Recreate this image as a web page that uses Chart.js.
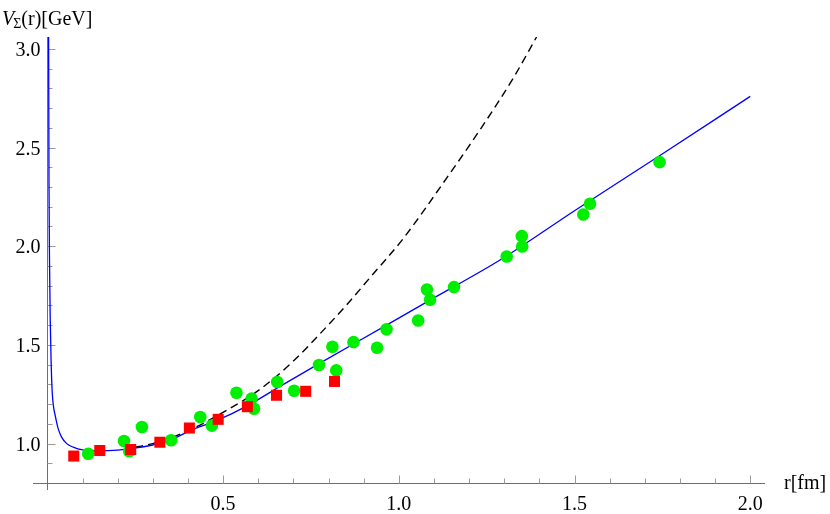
<!DOCTYPE html>
<html>
<head>
<meta charset="utf-8">
<script src="https://cdn.jsdelivr.net/npm/chart.js@4"></script>
<style>
  html, body { margin: 0; padding: 0; background: #fff; }
  #wrap { width: 830px; height: 514px; }
</style>
</head>
<body>
<div id="wrap"><canvas id="potentialChart" width="830" height="514"></canvas></div>
<script>
// red squares
const redR = [0.075, 0.149, 0.237, 0.320, 0.404, 0.486, 0.569, 0.652, 0.735, 0.817];
const redV = [0.937, 0.965, 0.970, 1.007, 1.079, 1.123, 1.187, 1.245, 1.265, 1.315];

// green circles
const greenR = [0.116, 0.218, 0.233, 0.269, 0.352, 0.435, 0.468, 0.538, 0.581, 0.588,
                0.654, 0.702, 0.773, 0.811, 0.822, 0.871, 0.938, 0.965, 1.055, 1.080,
                1.089, 1.157, 1.307, 1.350, 1.351, 1.525, 1.544, 1.742];
const greenV = [0.949, 1.013, 0.961, 1.084, 1.017, 1.135, 1.091, 1.258, 1.228, 1.177,
                1.312, 1.268, 1.398, 1.491, 1.371, 1.514, 1.486, 1.579, 1.624, 1.781,
                1.729, 1.793, 1.948, 2.051, 1.999, 2.161, 2.215, 2.426];

// solid blue curve
const curveR = [0.0034, 0.0045, 0.006, 0.008, 0.0105, 0.0137, 0.018, 0.0213, 0.03, 0.0404,
                0.055, 0.0734, 0.1, 0.15, 0.2, 0.243, 0.3, 0.34, 0.405, 0.486,
                0.567, 0.662, 0.773, 0.965, 1.089, 1.288, 1.5, 1.743, 2.0];
const curveV = [3.06, 2.32, 1.92, 1.63, 1.42, 1.26, 1.18, 1.15, 1.08, 1.033,
                1.0, 0.982, 0.968, 0.963, 0.967, 0.976, 0.993, 1.01, 1.065, 1.12,
                1.19, 1.29, 1.405, 1.60, 1.727, 1.93, 2.18, 2.46, 2.759];

// dashed black curve
const dashR = [0.25, 0.3, 0.4, 0.51, 0.605, 0.70, 0.776, 0.85, 0.92, 1.013,
               1.136, 1.231, 1.326, 1.392];
const dashV = [0.982, 1.0, 1.065, 1.169, 1.275, 1.418, 1.557, 1.70, 1.845, 2.04,
               2.345, 2.59, 2.853, 3.06];

const xTickValues = [0.5, 1.0, 1.5, 2.0];
const xTickLabels = ['0.5', '1.0', '1.5', '2.0'];
const yTickValues = [1.0, 1.5, 2.0, 2.5, 3.0];
const yTickLabels = ['1.0', '1.5', '2.0', '2.5', '3.0'];

function toPoints(xs, ys) {
    return xs.map((x, i) => ({ x: x, y: ys[i] }));
}

const SERIF = '"Liberation Serif", "DejaVu Serif", serif';

// Mathematica-like axes crossing at (0, 0.8), ticks pointing inwards
const axesPlugin = {
    id: 'mmaAxes',
    beforeDatasetsDraw(chart) {
        const ctx = chart.ctx;
        const xs = chart.scales.x, ys = chart.scales.y;
        const area = chart.chartArea;
        const x0 = Math.round(xs.getPixelForValue(0)) + 0.5;
        const y0 = Math.round(ys.getPixelForValue(0.8)) + 0.5;

        ctx.save();
        ctx.lineWidth = 1;
        ctx.strokeStyle = '#6e6e6e';
        ctx.beginPath();
        ctx.moveTo(area.left, y0);
        ctx.lineTo(area.right, y0);
        ctx.moveTo(x0, area.top);
        ctx.lineTo(x0, area.bottom);
        ctx.stroke();

        ctx.strokeStyle = '#9a9a9a';
        ctx.beginPath();
        for (let i = 1; i <= 20; i++) {
            const px = Math.round(xs.getPixelForValue(i / 10)) + 0.5;
            ctx.moveTo(px, y0);
            ctx.lineTo(px, y0 - (i % 5 === 0 ? 8 : 5));
        }
        for (let i = 9; i <= 30; i++) {
            const py = Math.round(ys.getPixelForValue(i / 10)) + 0.5;
            ctx.moveTo(x0, py);
            ctx.lineTo(x0 + (i % 5 === 0 ? 8 : 5), py);
        }
        ctx.stroke();

        ctx.fillStyle = '#000';
        ctx.font = '20px ' + SERIF;
        ctx.textBaseline = 'alphabetic';
        ctx.textAlign = 'center';
        xTickValues.forEach((v, i) => {
            ctx.fillText(xTickLabels[i], xs.getPixelForValue(v), y0 + 26);
        });
        ctx.textAlign = 'right';
        yTickValues.forEach((v, i) => {
            ctx.fillText(yTickLabels[i], x0 - 7, ys.getPixelForValue(v) + 7);
        });

        // axis labels
        ctx.textAlign = 'left';
        ctx.fillText('r[fm]', area.right + 19, y0 + 5);

        let tx = 2;
        ctx.font = 'italic 20px ' + SERIF;
        ctx.fillText('V', tx, 25);
        tx += ctx.measureText('V').width - 1;
        ctx.font = '14px ' + SERIF;
        ctx.fillText('Σ', tx, 28);
        tx += ctx.measureText('Σ').width;
        ctx.font = '20px ' + SERIF;
        ctx.fillText('(r)[GeV]', tx, 25);
        ctx.restore();
    }
};

const ctx = document.getElementById('potentialChart').getContext('2d');
new Chart(ctx, {
    type: 'scatter',
    data: {
        datasets: [
            {
                label: 'red',
                data: toPoints(redR, redV),
                pointStyle: 'rect',
                pointRadius: 7.8,
                pointBackgroundColor: '#ff0000',
                backgroundColor: '#ff0000',
                pointBorderWidth: 0,
                borderWidth: 0,
                order: 0
            },
            {
                label: 'green',
                data: toPoints(greenR, greenV),
                pointStyle: 'circle',
                pointRadius: 6.3,
                pointBackgroundColor: '#00ee00',
                backgroundColor: '#00ee00',
                pointBorderWidth: 0,
                borderWidth: 0,
                order: 1
            },
            {
                label: 'fit',
                data: toPoints(curveR, curveV),
                showLine: true,
                pointRadius: 0,
                borderColor: '#0000ff',
                borderWidth: 1.3,
                fill: false,
                cubicInterpolationMode: 'monotone',
                order: 2
            },
            {
                label: 'dashed',
                data: toPoints(dashR, dashV),
                showLine: true,
                pointRadius: 0,
                borderColor: '#000000',
                borderWidth: 1.4,
                borderDash: [8, 5],
                fill: false,
                cubicInterpolationMode: 'monotone',
                order: 3
            }
        ]
    },
    options: {
        responsive: false,
        devicePixelRatio: 1,
        animation: false,
        events: [],
        layout: { padding: { left: 33, right: 65, top: 37, bottom: 24 } },
        plugins: {
            legend: { display: false },
            tooltip: { enabled: false }
        },
        scales: {
            x: { type: 'linear', min: -0.041, max: 2.042, display: false },
            y: { type: 'linear', min: 0.765, max: 3.06, display: false }
        }
    },
    plugins: [axesPlugin]
});
</script>
</body>
</html>
